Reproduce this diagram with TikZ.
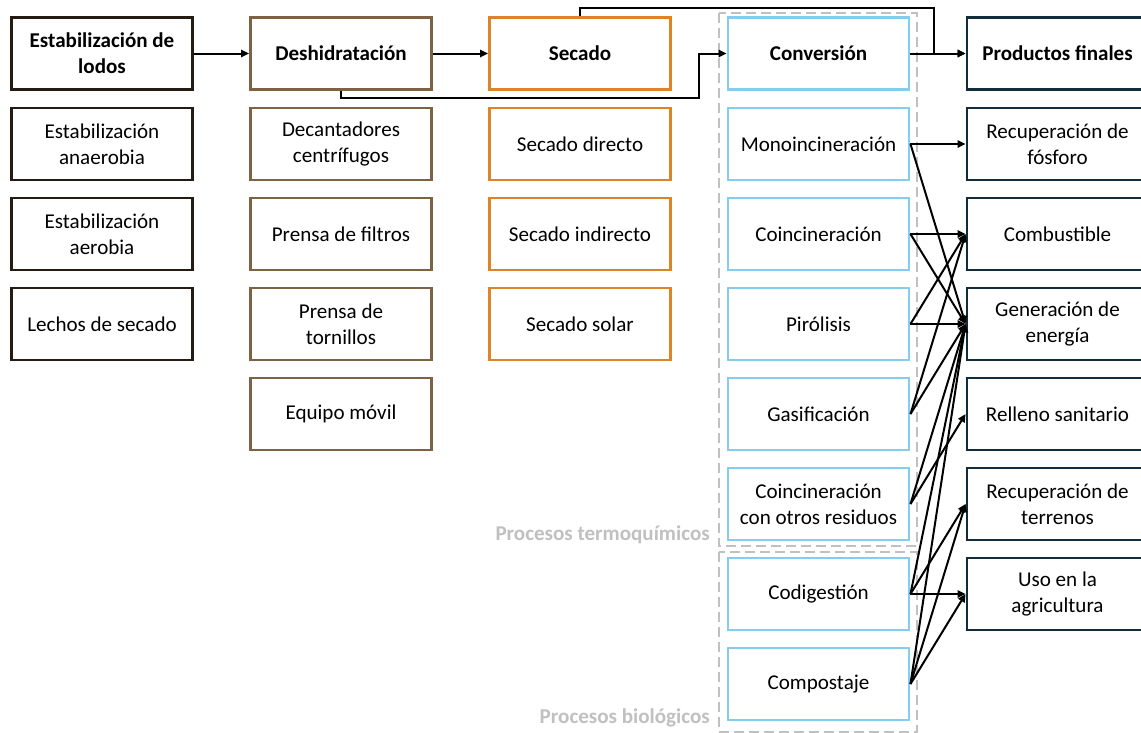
\documentclass[tikz,border=0pt]{standalone}
\usepackage{fontspec}
\setmainfont{Carlito}
\usetikzlibrary{arrows.meta}

\definecolor{stabcol}{HTML}{261B12}
\definecolor{dewcol}{HTML}{7D6244}
\definecolor{drycol}{HTML}{DD8429}
\definecolor{convcol}{HTML}{85CDF0}
\definecolor{prodcol}{HTML}{112D3C}
\definecolor{groupcol}{HTML}{C0C0C0}

\tikzset{
  box/.style={draw, line width=2.2pt, fill=white, minimum width=135.75pt,
    minimum height=54pt, align=center, inner sep=2pt,
    font=\fontsize{15.8}{19.5}\selectfont},
  head/.style={box, font=\fontsize{15.8}{19.5}\selectfont\bfseries},
  stab/.style={draw=stabcol}, dew/.style={draw=dewcol}, dry/.style={draw=drycol},
  conv/.style={draw=convcol}, prod/.style={draw=prodcol},
  conn/.style={line width=1.5pt, -{Triangle[length=6pt,width=5.5pt]}},
  group/.style={draw=groupcol, line width=1.5pt, dash pattern=on 7.5pt off 3.75pt},
  grouplabel/.style={text=groupcol, font=\fontsize{15.8}{19.5}\selectfont\bfseries, inner sep=0pt}
}

\begin{document}
\begin{tikzpicture}[x=0.75pt, y=-0.75pt]
\useasboundingbox (0,0) rectangle (1141,732);

% process groups inside the conversion column
\draw[group] (719,13) rectangle (917,546);
\draw[group] (719,552) rectangle (917,732);
\node[grouplabel, anchor=base east] (lblthermo) at (710,540) {Procesos termoquímicos};
\node[grouplabel, anchor=base east] (lblbio) at (710,723) {Procesos biológicos};

% column 1: stabilisation
\node[head, stab] (e0) at (102,53.5) {Estabilización de\\lodos};
\node[box, stab] (e1) at (102,144) {Estabilización\\anaerobia};
\node[box, stab] (e2) at (102,234) {Estabilización\\aerobia};
\node[box, stab] (e3) at (102,324) {Lechos de secado};

% column 2: dewatering
\node[head, dew] (d0) at (341,53.5) {Deshidratación};
\node[box, dew] (d1) at (341,144) {Decantadores\\centrífugos};
\node[box, dew] (d2) at (341,234) {Prensa de filtros};
\node[box, dew] (d3) at (341,324) {Prensa de\\tornillos};
\node[box, dew] (d4) at (341,414) {Equipo móvil};

% column 3: drying
\node[head, dry] (s0) at (580,53.5) {Secado};
\node[box, dry] (s1) at (580,144) {Secado directo};
\node[box, dry] (s2) at (580,234) {Secado indirecto};
\node[box, dry] (s3) at (580,324) {Secado solar};

% column 4: conversion
\node[head, conv] (c0) at (818.5,53.5) {Conversión};
\node[box, conv] (c1) at (818.5,144) {Monoincineración};
\node[box, conv] (c2) at (818.5,234) {Coincineración};
\node[box, conv] (c3) at (818.5,324) {Pirólisis};
\node[box, conv] (c4) at (818.5,414) {Gasificación};
\node[box, conv] (c5) at (818.5,504) {Coincineración\\con otros residuos};
\node[box, conv] (c6) at (818.5,594) {Codigestión};
\node[box, conv] (c7) at (818.5,684) {Compostaje};

% column 5: end products
\node[head, prod] (p0) at (1057.5,53.5) {Productos finales};
\node[box, prod] (p1) at (1057.5,144) {Recuperación de\\fósforo};
\node[box, prod] (p2) at (1057.5,234) {Combustible};
\node[box, prod] (p3) at (1057.5,324) {Generación de\\energía};
\node[box, prod] (p4) at (1057.5,414) {Relleno sanitario};
\node[box, prod] (p5) at (1057.5,504) {Recuperación de\\terrenos};
\node[box, prod] (p6) at (1057.5,594) {Uso en la\\agricultura};

% main chain and bypasses
\coordinate (skipdry) at (699,98);
\coordinate (skipconv) at (934,7.5);
\draw[conn] (e0.east) -- (d0.west);
\draw[conn] (d0.east) -- (s0.west);
\draw[conn] (d0.south) |- (skipdry) |- (c0.west);
\draw[conn] (c0.east) -- (p0.west);
\draw[conn] (s0.north) |- (skipconv) |- (p0.west);

% conversion routes to end products
\foreach \a/\b in {1/1,1/3,2/2,2/3,3/3,3/2,4/2,4/3,5/3,5/4,6/3,6/5,6/6,7/3,7/5,7/6}
  \draw[conn] (c\a.east) -- (p\b.west);
\end{tikzpicture}
\end{document}
